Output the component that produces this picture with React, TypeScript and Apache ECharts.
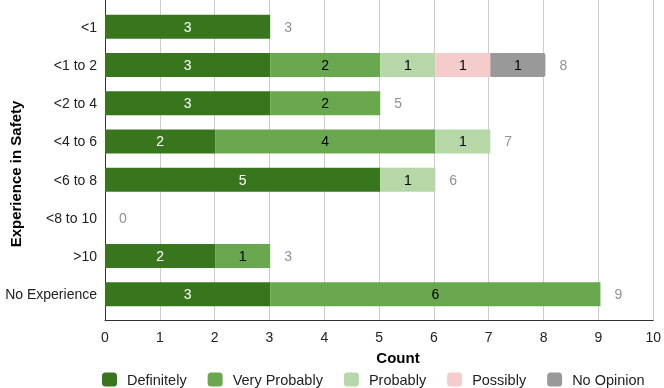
import React, { useEffect, useRef } from "react";
import * as echarts from "echarts";

const categories = ["<1", "<1 to 2", "<2 to 4", "<4 to 6", "<6 to 8", "<8 to 10", ">10", "No Experience"];
const seriesNames = ["Definitely", "Very Probably", "Probably", "Possibly", "No Opinion"];
const definitely = [3, 3, 3, 2, 5, 0, 2, 3];
const veryProbably = [0, 2, 2, 4, 0, 0, 1, 6];
const probably = [0, 1, 0, 1, 1, 0, 0, 0];
const possibly = [0, 1, 0, 0, 0, 0, 0, 0];
const noOpinion = [0, 1, 0, 0, 0, 0, 0, 0];
const xTicks = { min: 0, max: 10, interval: 1 };
const xTitle = "Count";
const yTitle = "Experience in Safety";
const colors = ["#38761d", "#6aa84f", "#b6d7a8", "#f4cccc", "#999999"];
const labelColors = ["#ffffff", "#000000", "#000000", "#000000", "#000000"];

const FONT = "'Liberation Sans', Arial, sans-serif";

export default function App() {
  const ref = useRef<HTMLDivElement>(null);
  useEffect(() => {
    if (!ref.current) return;
    const chart = echarts.init(ref.current, undefined, { renderer: "svg" });
    const values = [definitely, veryProbably, probably, possibly, noOpinion];
    const totals = categories.map((_, i) => values.reduce((s, arr) => s + arr[i], 0));
    const barSeries = seriesNames.map((name, si) => ({
      name,
      type: "bar",
      stack: "total",
      xAxisIndex: 0,
      yAxisIndex: 0,
      barWidth: 24,
      itemStyle: {
        color: colors[si],
        borderRadius: si === 4 ? [0, 2, 2, 0] : 0,
      },
      label: {
        show: true,
        position: "inside",
        color: labelColors[si],
        fontSize: 14,
        fontFamily: FONT,
        formatter: (p: any) => (p.value > 0 ? String(p.value) : ""),
      },
      data: values[si],
    }));
    chart.setOption({
      animation: false,
      textStyle: { fontFamily: FONT },
      color: colors,
      grid: [
        { left: 105, right: 8.5, top: 7.7, height: 305.7 },
        { left: 105, right: 8.5, top: 0, height: 320.5 },
      ],
      legend: {
        left: 102,
        top: 372,
        padding: 0,
        itemWidth: 15,
        itemHeight: 14,
        itemGap: 21,
        icon: "roundRect",
        data: seriesNames,
        textStyle: { fontSize: 14.5, color: "#222", fontFamily: FONT, padding: [0, 0, 0, 5] },
      },
      graphic: [
        {
          type: "text",
          x: 398,
          y: 357,
          style: {
            text: xTitle,
            fontSize: 15,
            fontWeight: "bold",
            fontFamily: FONT,
            fill: "#000",
            align: "center",
            verticalAlign: "middle",
          },
        },
        {
          type: "text",
          x: 15,
          y: 174,
          rotation: Math.PI / 2,
          style: {
            text: yTitle,
            fontSize: 15,
            fontWeight: "bold",
            fontFamily: FONT,
            fill: "#000",
            align: "center",
            verticalAlign: "middle",
          },
        },
      ],
      xAxis: [
        { type: "value", gridIndex: 0, min: xTicks.min, max: xTicks.max, interval: xTicks.interval, show: false },
        {
          type: "value",
          gridIndex: 1,
          min: xTicks.min,
          max: xTicks.max,
          interval: xTicks.interval,
          axisLine: { show: true, lineStyle: { color: "#333", width: 1 } },
          axisTick: { show: false },
          axisLabel: { color: "#222", fontSize: 14, margin: 9, fontFamily: FONT },
          splitLine: { show: true, lineStyle: { color: "#cccccc", width: 1 } },
        },
      ],
      yAxis: [
        {
          type: "category",
          gridIndex: 0,
          inverse: true,
          data: categories,
          axisLine: { show: false },
          axisTick: { show: false },
          splitLine: { show: false },
          axisLabel: { color: "#222", fontSize: 14, margin: 8, fontFamily: FONT },
        },
        {
          type: "value",
          gridIndex: 1,
          min: 0,
          max: 1,
          axisLine: { show: true, lineStyle: { color: "#333", width: 1 } },
          axisTick: { show: false },
          axisLabel: { show: false },
          splitLine: { show: false },
        },
      ],
      series: [
        ...barSeries,
        {
          name: "totals",
          type: "scatter",
          xAxisIndex: 0,
          yAxisIndex: 0,
          symbolSize: 0,
          silent: true,
          data: totals.map((t, i) => [t, i]),
          label: {
            show: true,
            position: "right",
            distance: 14,
            color: "#757575",
            fontSize: 14,
            fontFamily: FONT,
            formatter: (p: any) => String(p.value[0]),
          },
        },
      ],
    });
    return () => chart.dispose();
  }, []);
  return <div ref={ref} style={{ position: "fixed", left: 0, top: 0, width: 664, height: 388 }} />;
}
